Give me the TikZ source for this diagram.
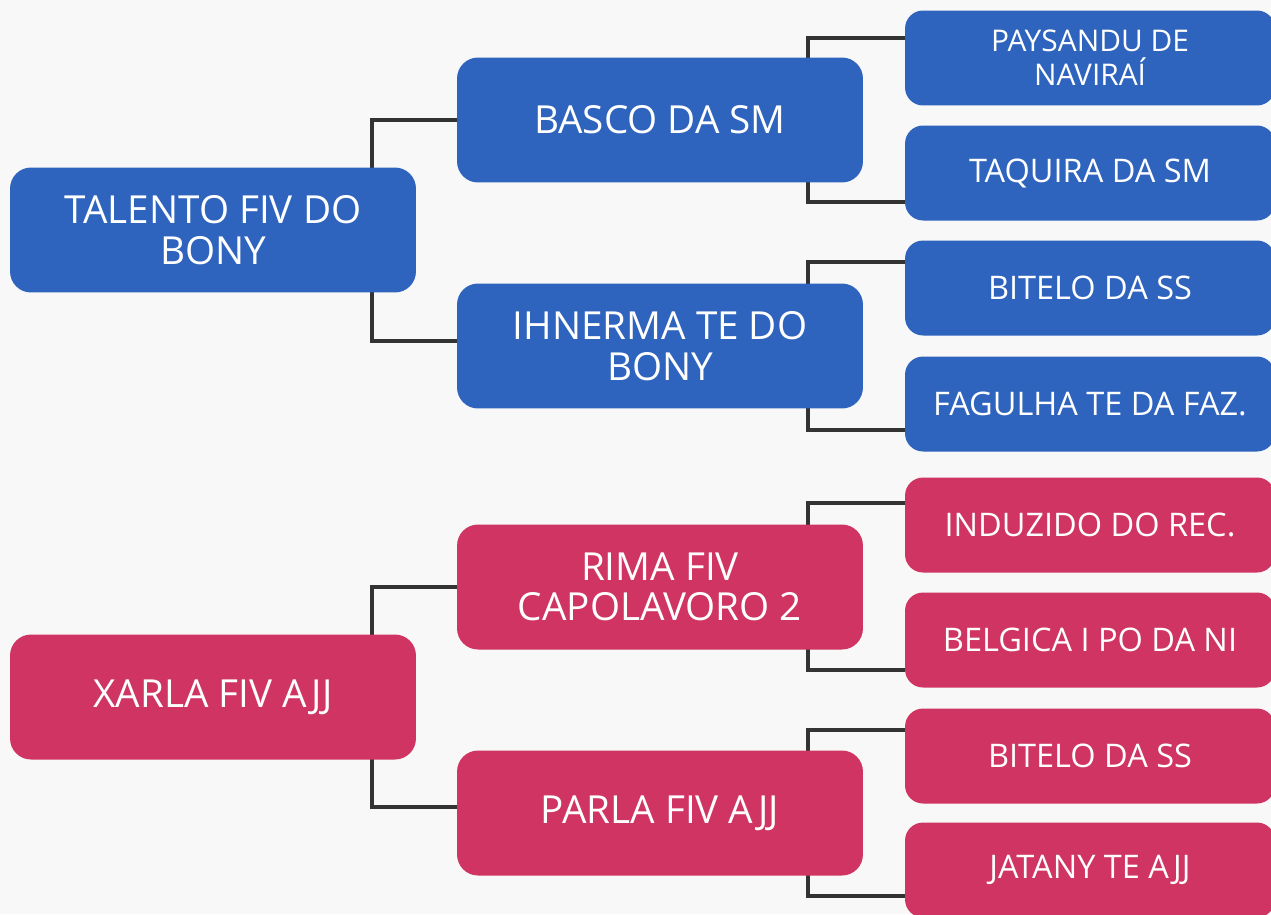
\documentclass[tikz,border=0pt]{standalone}
\usepackage{fontspec}
\setmainfont{Open Sans}[Kerning=Off]
\usetikzlibrary{backgrounds}
\definecolor{boxblue}{RGB}{46,99,190}
\definecolor{boxpink}{RGB}{207,52,98}
\definecolor{linkgray}{RGB}{51,51,51}
\definecolor{paper}{RGB}{248,248,248}
\tikzset{
  box/.style={rounded corners=0.42cm, text=white, align=center, inner sep=2pt},
  bigbox/.style={box, minimum width=8.12cm, minimum height=2.5cm, font=\fontsize{22}{23}\selectfont},
  leafbox/.style={box, rounded corners=0.36cm, minimum width=7.4cm, minimum height=1.9cm, font=\fontsize{18.5}{20}\selectfont},
  link/.style={line width=0.08cm, linkgray},
}

\begin{document}
\begin{tikzpicture}[x=0.02cm, y=-0.02cm]
    \useasboundingbox (0,0) rectangle (1271,914);

    % upper tree
    \node[bigbox, fill=boxblue] (TAL) at (213,230) {TALENTO FIV DO\\BONY};
    \node[bigbox, fill=boxblue] (BAS) at (660,120) {BASCO DA SM};
    \node[bigbox, fill=boxblue] (IHN) at (660,346) {IHNERMA TE DO\\BONY};

    \node[leafbox, fill=boxblue, font=\fontsize{17}{19.5}\selectfont] (PAY) at (1090,58) {PAYSANDU DE\\NAVIRAÍ};
    \node[leafbox, fill=boxblue] (TAQ) at (1090,173) {TAQUIRA DA SM};
    \node[leafbox, fill=boxblue] (BIT) at (1090,288) {BITELO DA SS};
    \node[leafbox, fill=boxblue] (FAG) at (1090,404) {FAGULHA TE DA FAZ.};

    % lower tree
    \node[bigbox, fill=boxpink] (XAR) at (213,697) {XARLA FIV AJJ};
    \node[bigbox, fill=boxpink] (RIM) at (660,587) {RIMA FIV\\CAPOLAVORO 2};
    \node[bigbox, fill=boxpink] (PAR) at (660,813) {PARLA FIV AJJ};

    \node[leafbox, fill=boxpink] (IND) at (1090,525) {INDUZIDO DO REC.};
    \node[leafbox, fill=boxpink] (BEL) at (1090,640) {BELGICA I PO DA NI};
    \node[leafbox, fill=boxpink] (BTL) at (1090,756) {BITELO DA SS};
    \node[leafbox, fill=boxpink] (JAT) at (1090,870) {JATANY TE AJJ};

    \begin{scope}[on background layer]
        \fill[paper] (0,0) rectangle (1271,914);

        \draw[link] (BAS.west) -| ([xshift=-0.88cm]TAL.east) |- ([yshift=0.1cm]IHN.west);
        \draw[link] (RIM.west) -| ([xshift=-0.88cm]XAR.east) |- ([yshift=0.12cm]PAR.west);

        \draw[link] ([yshift=0.4cm]PAY.west) -| ([xshift=-1.1cm]BAS.east) |- ([yshift=-0.58cm]TAQ.west);
        \draw[link] ([yshift=0.52cm]BIT.west) -| ([xshift=-1.1cm]IHN.east) |- ([yshift=-0.52cm]FAG.west);
        \draw[link] ([yshift=0.44cm]IND.west) -| ([xshift=-1.1cm]RIM.east) |- ([yshift=-0.6cm]BEL.west);
        \draw[link] ([yshift=0.52cm]BTL.west) -| ([xshift=-1.1cm]PAR.east) |- ([yshift=-0.52cm]JAT.west);
    \end{scope}
\end{tikzpicture}
\end{document}
